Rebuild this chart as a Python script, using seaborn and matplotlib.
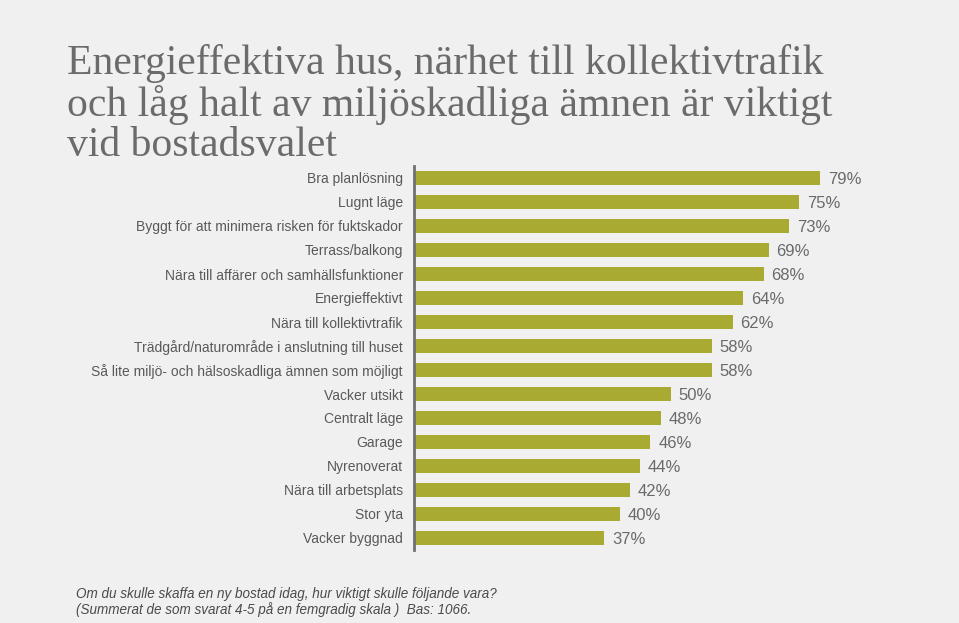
import matplotlib
matplotlib.use("Agg")
import matplotlib.pyplot as plt
import seaborn as sns

categories = ['Bra planlösning', 'Lugnt läge', 'Byggt för att minimera risken för fuktskador',
              'Terrass/balkong', 'Nära till affärer och samhällsfunktioner', 'Energieffektivt',
              'Nära till kollektivtrafik', 'Trädgård/naturområde i anslutning till huset',
              'Så lite miljö- och hälsoskadliga ämnen som möjligt', 'Vacker utsikt',
              'Centralt läge', 'Garage', 'Nyrenoverat', 'Nära till arbetsplats',
              'Stor yta', 'Vacker byggnad']
values = [79, 75, 73, 69, 68, 64, 62, 58, 58, 50, 48, 46, 44, 42, 40, 37]

title = "Energieffektiva hus, närhet till kollektivtrafik\noch låg halt av miljöskadliga ämnen är viktigt\nvid bostadsvalet"
note = ("Om du skulle skaffa en ny bostad idag, hur viktigt skulle följande vara?\n"
        "(Summerat de som svarat 4-5 på en femgradig skala )  Bas: 1066.")

bg = "#f0f0f0"
bar_color = "#a8aa32"
text_color = "#595959"

sns.set_theme(style="white")
plt.rcParams['font.family'] = ['Liberation Sans', 'DejaVu Sans']

fig = plt.figure(figsize=(9.59, 6.23), dpi=100, facecolor=bg)
ax = fig.add_axes([414 / 959, 1 - 550 / 623, 514 / 959, 384 / 623])
ax.set_facecolor(bg)

# horizontal bars, sorted as in the source
sns.barplot(x=values, y=categories, color=bar_color, width=0.58,
            orient="h", ax=ax, saturation=1, linewidth=0)

ax.set_xlim(0, 100)
ax.set_ylim(15.5, -0.5)
ax.set_xticks([])
ax.set_xlabel("")
ax.set_ylabel("")
for s in ["top", "right", "bottom"]:
    ax.spines[s].set_visible(False)
ax.spines["left"].set_color("#707070")
ax.spines["left"].set_linewidth(2)
ax.tick_params(axis="y", length=0, pad=8, labelsize=10, labelcolor=text_color)

for i, v in enumerate(values):
    ax.text(v + 1.5, i + 0.08, f"{v}%", va="center", ha="left",
            fontsize=12, color="#6a6a6a")

fig.text(67 / 959, 1 - 44 / 623, title, family=["Liberation Serif", "DejaVu Serif"],
         fontsize=30, color="#6b6b6b", va="top", ha="left", linespacing=1.05)
fig.text(76 / 959, 1 - 587 / 623, note, fontsize=9.75, style="italic",
         color="#4a4a4a", va="top", ha="left", linespacing=1.1)

fig.savefig("out.png", dpi=100, facecolor=bg)
